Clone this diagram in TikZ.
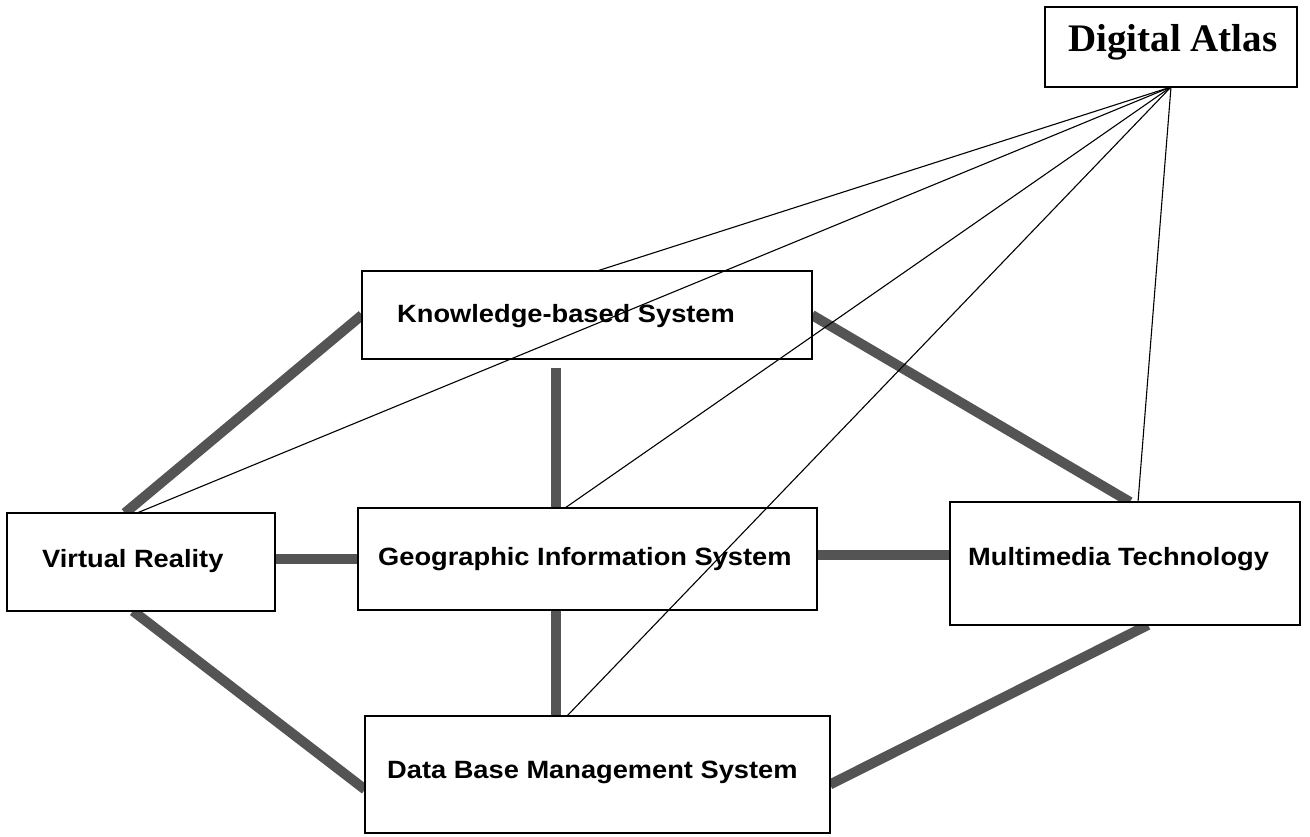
\documentclass[tikz,border=0pt]{standalone}
\usepackage{fontspec}
\usetikzlibrary{calc,backgrounds}
\newfontfamily\boxfont[FakeStretch=1.09]{Liberation Sans}
\newfontfamily\atlasfont{Liberation Serif}
\definecolor{linkgray}{gray}{0.33}
\begin{document}
\begin{tikzpicture}[x=1pt,y=-1pt,
  box/.style={draw=black, line width=2.2pt, fill=white, inner sep=0pt, outer sep=0pt, anchor=north west},
  lbl/.style={anchor=base west, inner sep=0pt, font=\boxfont\bfseries\fontsize{25}{30}\selectfont},
  link/.style={draw=linkgray, line width=10pt},
  ref/.style={draw=black, line width=1.1pt}]
\useasboundingbox (0,0) rectangle (1310,837);

% boxes
\node[box, minimum width=252pt, minimum height=80pt]  (da)  at (1045,7)   {};
\node[box, minimum width=450pt, minimum height=88pt]  (kbs) at (362,271)  {};
\node[box, minimum width=268pt, minimum height=98pt]  (vr)  at (7,513)    {};
\node[box, minimum width=459pt, minimum height=102pt] (gis) at (358,508)  {};
\node[box, minimum width=350pt, minimum height=123pt] (mt)  at (950,502)  {};
\node[box, minimum width=465pt, minimum height=117pt] (db)  at (365,716)  {};

% labels
\node[anchor=base west, inner sep=0pt, font=\atlasfont\bfseries\fontsize{39}{45}\selectfont] (da-t) at (1068,52) {Digital Atlas};
\node[lbl] (kbs-t) at (397,323) {Knowledge-based System};
\node[lbl] (vr-t)  at (42,567)  {Virtual Reality};
\node[lbl] (gis-t) at (378,565) {Geographic Information System};
\node[lbl] (mt-t)  at (968,565) {Multimedia Technology};
\node[lbl] (db-t)  at (387,778) {Data Base Management System};

% thick links between the components, behind the boxes
\begin{scope}[on background layer]
  \draw[link] ($(vr.north west)!0.44!(vr.north east)$) -- (kbs.west);
  \draw[link] ($(kbs.south west)+(194,9)$) -- ($(gis.north west)+(198,0)$);
  \draw[link] (kbs.east) -- ($(mt.north west)+(180,0)$);
  \draw[link] (gis.west) -- (gis.west -| vr.east);
  \draw[link] ($(gis.east)+(0,-4)$) coordinate (g1) -- (g1 -| mt.west);
  \draw[link] ($(gis.south west)+(198,0)$) -- ($(db.north west)+(191,0)$);
  \draw[link] ($(vr.south west)+(126,0)$) -- ($(db.west)+(0,15)$);
  \draw[link] ($(db.east)+(0,10)$) -- ($(mt.south west)+(198,0)$);
\end{scope}

% thin lines from the atlas to each component
\draw[ref] (da.south) -- ($(kbs.north west)+(235,0)$);
\draw[ref] (da.south) -- ($(vr.north west)+(130,0)$);
\draw[ref] (da.south) -- ($(gis.north west)+(207,0)$);
\draw[ref] (da.south) -- ($(db.north west)+(202,0)$);
\draw[ref] (da.south) -- ($(mt.north west)+(188,0)$);
\end{tikzpicture}
\end{document}
